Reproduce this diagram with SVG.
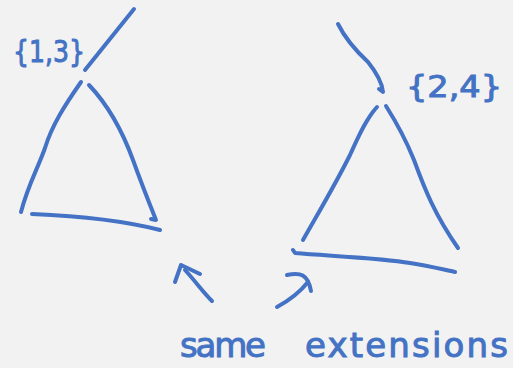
<svg xmlns="http://www.w3.org/2000/svg" width="513" height="368" viewBox="0 0 513 368">
<style>
.s{fill:none;stroke:#4472c4;stroke-width:4;stroke-linecap:round;stroke-linejoin:round}
.t{fill:#4472c4;stroke:#4472c4;stroke-width:1;font-family:"DejaVu Sans",sans-serif}
</style>
<rect width="513" height="368" fill="#f2f2f2"/>
<g id="tree-left">
<path class="s" d="M81,82 C65,105 52,125 45,148 C38,168 28,185 21,212"/>
<path class="s" d="M89,85 C108,105 122,130 133,160 C142,185 150,205 156,220 L151,219"/>
<path class="s" d="M32,214 C80,216 125,221 160,230"/>
<text class="t" x="13" y="62" font-size="30" textLength="72" lengthAdjust="spacingAndGlyphs">{1,3}</text>
</g>
<g id="tree-right">
<path class="s" d="M377,107 C365,120 357,140 350,155 C335,185 320,210 303,240"/>
<path class="s" d="M386,106 C398,125 408,145 414,160 C425,190 435,215 458,248"/>
<path class="s" d="M293,250 L295,253 C330,256 380,258 410,263 C430,266 445,270 455,272"/>
<text class="t" x="406" y="97" font-size="30" textLength="96" lengthAdjust="spacingAndGlyphs">{2,4}</text>
</g>
<g id="connectors">
<path class="s" d="M134,9 L85,70"/>
<path class="s" d="M338,24 C345,38 355,50 368,62 C376,72 382,82 383,92 L379,89"/>
<path class="s" d="M212,301 C203,292 196,282 185,270"/>
<path class="s" d="M175,282 L181,265 L200,274"/>
<path class="s" d="M277,307 C290,300 300,292 308,282"/>
<path class="s" d="M287,275 C300,272 308,274 311,291"/>
</g>
<text class="t" x="180" y="357" font-size="34" textLength="86" lengthAdjust="spacing">same</text>
<text class="t" x="305" y="357" font-size="34" textLength="203" lengthAdjust="spacing">extensions</text>
</svg>
